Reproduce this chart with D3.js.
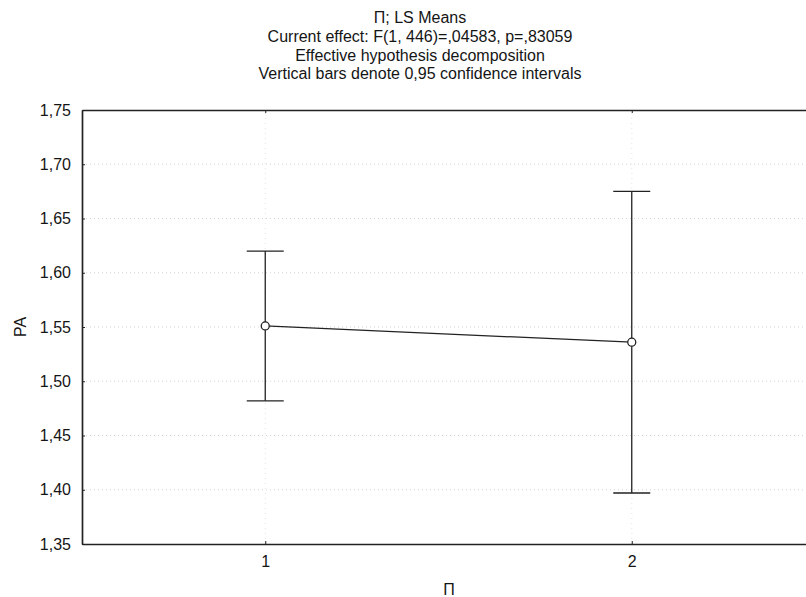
<!DOCTYPE html>
<html>
<head>
<meta charset="utf-8">
<script src="https://cdn.jsdelivr.net/npm/d3@7"></script>
<style>
  html, body { margin: 0; padding: 0; background: #fff; }
  svg { display: block; font-family: "Liberation Sans", Arial, sans-serif; }
</style>
</head>
<body>
<svg id="chart" width="806" height="597"></svg>
<script>
// LS means of PA by level of Π, with 0.95 confidence limits
const levels = [1, 2];
const means = [1.551, 1.536];
const lower = [1.482, 1.397];
const upper = [1.620, 1.675];
const yTicks = [1.35, 1.40, 1.45, 1.50, 1.55, 1.60, 1.65, 1.70, 1.75];

const titleLines = [
  "Π; LS Means",
  "Current effect: F(1, 446)=,04583, p=,83059",
  "Effective hypothesis decomposition",
  "Vertical bars denote 0,95 confidence intervals"
];

const svg = d3.select("#chart");
const ink = "#222";
const textInk = "#151515";
const fontPx = "16px";

const x = d3.scaleLinear().domain([0.5, 2.5]).range([82, 815]);
const y = d3.scaleLinear().domain([1.35, 1.75]).range([544, 110]);

const fmt = v => d3.format(".2f")(v).replace(".", ",");

// dotted grid
svg.append("g").selectAll("line").data(yTicks.slice(1, -1)).join("line")
  .attr("x1", x(0.5)).attr("x2", x(2.5))
  .attr("y1", d => y(d)).attr("y2", d => y(d))
  .attr("stroke", "#d4d4d4").attr("stroke-width", 1)
  .attr("stroke-dasharray", "1,3");
svg.append("g").selectAll("line").data(levels).join("line")
  .attr("x1", d => x(d)).attr("x2", d => x(d))
  .attr("y1", y(1.35)).attr("y2", y(1.75))
  .attr("stroke", "#e4e4e4").attr("stroke-width", 1)
  .attr("stroke-dasharray", "1,4");

// axes (ticks point into the plot)
const yAxis = d3.axisLeft(y).tickValues(yTicks).tickFormat(fmt)
  .tickSizeInner(-3).tickSizeOuter(0).tickPadding(11);
const gy = svg.append("g").attr("transform", `translate(${x(0.5)},0)`).call(yAxis);

const xAxis = d3.axisBottom(x).tickValues(levels).tickFormat(d3.format("d"))
  .tickSizeInner(-3).tickSizeOuter(0).tickPadding(12);
const gx = svg.append("g").attr("transform", `translate(0,${y(1.35)})`).call(xAxis);

const xTop = d3.axisTop(x).tickValues(levels).tickFormat("")
  .tickSizeInner(-3).tickSizeOuter(0);
const gt = svg.append("g").attr("transform", `translate(0,${y(1.75)})`).call(xTop);

[gy, gx, gt].forEach(g => {
  g.select(".domain").attr("stroke", ink).attr("stroke-width", 1.7);
  g.selectAll(".tick line").attr("stroke", ink).attr("stroke-width", 1);
  g.selectAll(".tick text").attr("fill", textInk).style("font-size", fontPx)
    .style("font-family", "'Liberation Sans', Arial, sans-serif");
});

// mean profile
const pts = levels.map((l, i) => ({ l, m: means[i], lo: lower[i], hi: upper[i] }));
svg.append("path").datum(pts)
  .attr("d", d3.line().x(d => x(d.l)).y(d => y(d.m)))
  .attr("fill", "none").attr("stroke", ink).attr("stroke-width", 1.3);

// confidence whiskers
const cap = 18.5;
const wg = svg.append("g").attr("stroke", ink).attr("stroke-width", 1.3);
wg.selectAll(".v").data(pts).join("line")
  .attr("x1", d => x(d.l)).attr("x2", d => x(d.l))
  .attr("y1", d => y(d.lo)).attr("y2", d => y(d.hi));
wg.selectAll(".ct").data(pts).join("line")
  .attr("x1", d => x(d.l) - cap).attr("x2", d => x(d.l) + cap)
  .attr("y1", d => y(d.hi)).attr("y2", d => y(d.hi));
wg.selectAll(".cb").data(pts).join("line")
  .attr("x1", d => x(d.l) - cap).attr("x2", d => x(d.l) + cap)
  .attr("y1", d => y(d.lo)).attr("y2", d => y(d.lo));

svg.append("g").selectAll("circle").data(pts).join("circle")
  .attr("cx", d => x(d.l)).attr("cy", d => y(d.m)).attr("r", 4)
  .attr("fill", "#fff").attr("stroke", ink).attr("stroke-width", 1.3);

// titles
svg.append("g").selectAll("text").data(titleLines).join("text")
  .attr("x", 420).attr("y", (d, i) => 23 + i * 18.8)
  .attr("text-anchor", "middle").attr("fill", textInk)
  .style("font-size", fontPx).text(d => d);

// axis titles
svg.append("text").attr("x", 449).attr("y", 595)
  .attr("text-anchor", "middle").attr("fill", textInk)
  .style("font-size", fontPx).text("Π");
svg.append("text").attr("transform", `translate(26,${y(1.55)}) rotate(-90)`)
  .attr("text-anchor", "middle").attr("fill", textInk)
  .style("font-size", fontPx).text("PA");
</script>
</body>
</html>
